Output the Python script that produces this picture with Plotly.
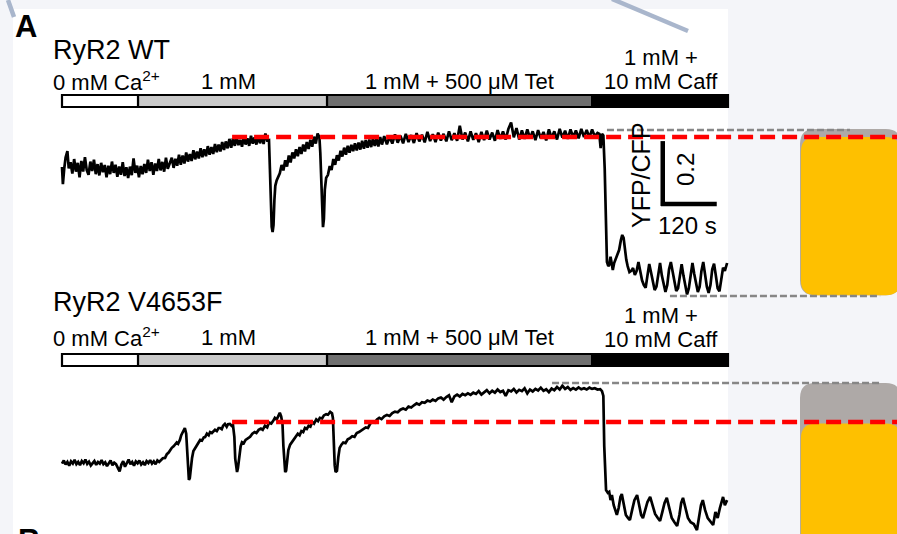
import plotly.graph_objects as go

# ---------------- data (time in s, YFP/CFP ratio) ----------------
wt_t = [0, 2, 5, 8, 12, 15, 19, 23, 27, 31, 35, 39, 43, 47, 51, 55, 59, 63, 67, 71, 75, 79, 83, 87, 91, 95, 99,
        103, 107, 111, 115, 119, 123, 127, 131, 135, 139, 143, 147, 151, 155, 159, 163, 167, 171, 175, 179, 183,
        187, 191, 195, 199, 203, 207, 211, 215, 219, 223, 227, 231, 235,
        240, 244, 248, 252, 256, 260, 264, 268, 272, 276, 280, 284, 288, 292, 296, 300, 304, 308, 312, 316, 320,
        324, 328, 332, 336, 340, 344, 348, 352, 356, 360, 364, 368,
        372, 376, 380, 384, 388, 392, 396, 400, 404, 408, 412, 416, 420, 424, 428, 432, 436, 440, 444, 448, 452, 456,
        460, 462, 464, 466, 468, 470, 472, 474, 477, 480, 484, 488, 492, 496, 500, 504, 508, 512, 516, 520, 524, 528,
        532, 536, 540, 544, 548, 552, 556, 560, 564, 568, 572,
        574, 576, 578, 580, 582, 584, 587, 591, 595, 599, 603, 607, 611, 615, 619, 623, 627, 631, 635, 639, 643, 647,
        651, 655, 659, 663, 667, 671, 675, 679, 683, 687, 691, 695, 699, 703, 707, 711,
        716, 722, 728, 734, 740, 746, 752, 758, 764, 770, 776, 782, 788, 794, 800, 806, 812, 818, 824, 830, 836, 842,
        848, 854, 860, 866, 872, 878, 884, 890, 896, 902, 908, 914, 920, 926, 932, 938, 944, 950, 956, 962, 968, 974,
        980, 986, 992, 998, 1004, 1010, 1016, 1022, 1028, 1034, 1040, 1046, 1052, 1058, 1064, 1070, 1076, 1082, 1088,
        1094, 1100, 1106, 1112, 1118, 1124, 1130, 1136, 1142, 1148, 1154, 1160, 1166, 1172, 1178, 1184, 1190,
        1194, 1197, 1200, 1203, 1206, 1209, 1211, 1214, 1216, 1219, 1222, 1224, 1227, 1231, 1235, 1238, 1242, 1245,
        1248, 1251, 1254, 1257, 1261, 1265, 1269, 1273, 1277, 1281, 1285, 1289, 1293, 1297, 1301, 1305, 1309, 1313,
        1317, 1321, 1325, 1329, 1333, 1337, 1341, 1345, 1349, 1353, 1357, 1361, 1365, 1369, 1373, 1377, 1381, 1385,
        1389, 1393, 1397, 1401, 1405, 1409, 1413, 1417, 1421, 1425, 1429, 1433, 1437, 1441, 1445, 1449, 1453, 1457,
        1461, 1465, 1469, 1473, 1478]
wt_ratio = [0.905, 0.850, 0.900, 0.935, 0.955, 0.900, 0.920, 0.884, 0.930, 0.890, 0.918, 0.872, 0.924, 0.890, 0.936,
            0.895, 0.880, 0.922, 0.892, 0.928, 0.882, 0.914, 0.878, 0.918, 0.888, 0.911, 0.872, 0.909, 0.882, 0.922,
            0.886, 0.912, 0.874, 0.906, 0.880, 0.920, 0.876, 0.904, 0.870, 0.906, 0.879, 0.932, 0.886, 0.909, 0.872,
            0.908, 0.882, 0.914, 0.886, 0.928, 0.892, 0.920, 0.880, 0.916, 0.892, 0.930, 0.894, 0.921, 0.890, 0.934,
            0.899,
            0.920, 0.934, 0.902, 0.931, 0.909, 0.944, 0.912, 0.941, 0.916, 0.951, 0.922, 0.946, 0.924, 0.958, 0.929,
            0.954, 0.932, 0.964, 0.936, 0.961, 0.939, 0.971, 0.944, 0.968, 0.946, 0.978, 0.952, 0.976, 0.954, 0.984,
            0.959, 0.986, 0.964,
            0.994, 0.966, 0.996, 0.972, 0.999, 0.974, 0.991, 0.969, 1.001, 0.976, 0.996, 0.972, 1.004, 0.979, 0.999,
            0.976, 1.005, 0.980, 1.002, 0.978, 1.011, 0.989,
            0.990, 0.900, 0.800, 0.715, 0.698, 0.720, 0.800, 0.845, 0.862, 0.875, 0.885, 0.911, 0.894, 0.926, 0.906,
            0.941, 0.919, 0.951, 0.932, 0.961, 0.939, 0.968, 0.946, 0.976, 0.954, 0.984, 0.962, 0.991, 0.969, 1.001,
            0.979, 1.011, 1.000,
            0.950, 0.860, 0.740, 0.714, 0.740, 0.832, 0.870, 0.880, 0.908, 0.895, 0.930, 0.912, 0.942, 0.925, 0.956,
            0.938, 0.966, 0.944, 0.972, 0.950, 0.975, 0.955, 0.980, 0.957, 0.982, 0.960, 0.988, 0.963, 0.990, 0.966,
            0.992, 0.968, 0.996, 0.972, 0.994, 0.970, 1.000, 0.976,
            1.003, 0.977, 1.001, 0.979, 1.008, 0.982, 1.004, 0.980, 1.010, 0.984, 1.006, 0.981, 1.012, 0.986, 1.007,
            0.983, 1.016, 0.987, 1.009, 0.984, 1.014, 0.989, 1.010, 0.986, 1.018, 0.990, 1.012, 0.988, 1.036, 0.992,
            1.014, 0.986, 1.018, 0.991, 1.012, 0.984, 1.016, 0.990, 1.020, 0.992, 1.014, 0.988, 1.022, 0.994, 1.018,
            0.992, 1.026, 1.046, 0.999, 1.028, 0.992, 1.021, 0.994, 1.024, 0.996, 1.018, 0.990, 1.022, 0.996, 1.016,
            0.989, 1.024, 0.997, 1.018, 0.992, 1.026, 0.998, 1.020, 0.994, 1.024, 0.999, 1.021, 0.996, 1.026, 1.000,
            1.022, 0.998, 1.024, 1.002, 1.013,
            1.010, 0.965, 1.010, 1.005, 0.900, 0.700, 0.603, 0.590, 0.594, 0.620, 0.590, 0.578, 0.600, 0.616, 0.630,
            0.641, 0.673, 0.689, 0.680, 0.641, 0.610, 0.590, 0.571, 0.575, 0.584, 0.562, 0.575, 0.603, 0.575, 0.545,
            0.530, 0.521, 0.560, 0.597, 0.570, 0.540, 0.514, 0.525, 0.570, 0.600, 0.560, 0.530, 0.508, 0.530, 0.580,
            0.603, 0.570, 0.535, 0.511, 0.520, 0.565, 0.596, 0.560, 0.528, 0.500, 0.520, 0.570, 0.600, 0.565, 0.530,
            0.508, 0.525, 0.575, 0.603, 0.565, 0.525, 0.505, 0.530, 0.580, 0.598, 0.560, 0.520, 0.510, 0.545, 0.585,
            0.575, 0.600]

mut_t = [0, 4, 8, 12, 16, 20, 24, 28, 32, 36, 40, 44, 48, 52, 56, 60, 64, 68, 72, 76, 80, 84, 88, 92, 96, 100, 104,
         108, 112, 116, 120, 124, 128, 132, 136, 140, 144, 148, 152, 156, 160, 164, 168, 172, 176, 180, 184, 188, 192,
         196, 200, 204, 208, 212, 216,
         220, 224, 229, 233, 237, 240, 244, 248, 251, 255, 258, 262, 265, 269, 273, 276, 278, 280, 282, 284, 286, 289,
         292, 296, 300, 304, 307, 311, 315, 318, 322, 326, 329, 333, 337, 340, 344, 348, 351, 355, 358, 362, 366, 369,
         373, 377, 380, 383, 385, 387, 389, 391, 394, 397, 400, 404, 408, 413, 418, 423, 428, 432, 437, 442, 446, 451,
         456, 460, 465, 469, 473, 477, 481, 484, 487, 490, 492, 494, 496, 498, 500, 503, 507, 511, 515, 520, 524, 528,
         532, 536, 540, 544, 548, 552, 556, 560, 565, 569, 573, 578, 582, 587, 591, 596, 600, 602, 604, 606, 608, 611,
         614, 617, 621, 625, 630, 635, 640, 645, 650, 655, 660, 665, 670, 675, 680, 685, 690, 695, 700, 705, 710, 716,
         722, 728, 734, 740, 746, 752, 758, 764, 770, 776, 782, 788, 794, 800, 806, 812, 818, 824, 830, 836, 842, 848,
         854, 860, 866, 872, 878, 884, 890, 896, 902, 908, 914, 920, 926, 932, 938, 944, 950, 956, 962, 968, 974, 980,
         986, 992, 998, 1004, 1010, 1016, 1022, 1028, 1034, 1040, 1046, 1052, 1058, 1064, 1070, 1076, 1082, 1088,
         1094, 1100, 1106, 1112, 1118, 1124, 1130, 1136, 1142, 1148, 1154, 1160, 1166, 1172, 1178, 1184, 1190, 1196,
         1200, 1203, 1205, 1207,
         1209, 1213, 1216, 1219, 1222, 1226, 1230, 1233, 1237, 1241, 1244, 1248, 1253, 1258, 1262, 1267, 1272, 1278,
         1283, 1287, 1291, 1296, 1301, 1307, 1312, 1318, 1324, 1329, 1334, 1339, 1344, 1349, 1355, 1361, 1367, 1372,
         1376, 1380, 1385, 1391, 1397, 1404, 1411, 1416, 1420, 1424, 1429, 1435, 1441, 1447, 1452, 1457, 1462, 1466,
         1469, 1473, 1478]
mut_ratio = [0.895, 0.905, 0.892, 0.900, 0.888, 0.902, 0.895, 0.907, 0.893, 0.900, 0.890, 0.903, 0.896, 0.908, 0.894,
             0.901, 0.889, 0.898, 0.903, 0.891, 0.900, 0.895, 0.906, 0.893, 0.899, 0.887, 0.897, 0.905, 0.890, 0.898,
             0.893, 0.880, 0.870, 0.892, 0.903, 0.885, 0.897, 0.908, 0.893, 0.900, 0.888, 0.902, 0.896, 0.905, 0.892,
             0.899, 0.890, 0.903, 0.897, 0.906, 0.895, 0.902, 0.893, 0.905, 0.900,
             0.905, 0.912, 0.913, 0.925, 0.930, 0.938, 0.945, 0.950, 0.954, 0.962, 0.958, 0.970, 0.985, 0.995, 1.008,
             0.990, 0.950, 0.890, 0.843, 0.849, 0.880, 0.913, 0.935, 0.944, 0.955, 0.962, 0.970, 0.968, 0.978, 0.979,
             0.990, 0.985, 0.995, 0.992, 1.000, 1.002, 0.998, 1.008, 1.008, 1.004, 1.015, 1.021, 1.012, 1.020, 1.021,
             1.015, 1.017, 0.980, 0.910, 0.881, 0.868, 0.881, 0.925, 0.950, 0.963, 0.960, 0.970, 0.976, 0.980, 0.990,
             0.995, 0.992, 1.002, 1.006, 1.002, 1.015, 1.010, 1.025, 1.022, 1.030, 1.040, 1.035, 1.045, 1.056, 1.045,
             1.020, 0.950, 0.880, 0.868, 0.872, 0.905, 0.938, 0.955, 0.963, 0.968, 0.978, 0.990, 0.985, 0.998, 0.995,
             1.008, 1.005, 1.015, 1.012, 1.027, 1.022, 1.035, 1.030, 1.040, 1.038, 1.048, 1.052, 1.050, 1.059, 1.055,
             1.040, 0.960, 0.890, 0.868, 0.872, 0.915, 0.945, 0.955, 0.962, 0.960, 0.972, 0.976, 0.982, 0.980, 0.992,
             0.995, 1.000, 1.004, 1.010, 1.008, 1.022, 1.027, 1.025, 1.035, 1.040, 1.036, 1.045, 1.049, 1.046, 1.055,
             1.060, 1.058, 1.066, 1.070, 1.066, 1.076, 1.073, 1.080, 1.086, 1.082, 1.090, 1.088, 1.095, 1.092, 1.098,
             1.094, 1.102, 1.105, 1.098, 1.106, 1.112, 1.090, 1.108, 1.114, 1.108, 1.116, 1.112, 1.118, 1.113, 1.120,
             1.116, 1.125, 1.114, 1.121, 1.128, 1.118, 1.126, 1.120, 1.130, 1.122, 1.126, 1.110, 1.128, 1.124, 1.132,
             1.121, 1.129, 1.125, 1.134, 1.118, 1.130, 1.124, 1.132, 1.127, 1.136, 1.126, 1.131, 1.122, 1.133, 1.128,
             1.138, 1.130, 1.142, 1.132, 1.138, 1.129, 1.135, 1.130, 1.137, 1.131, 1.134, 1.130, 1.136, 1.132, 1.134,
             1.130, 1.131, 1.125, 1.110, 0.950, 0.843,
             0.811, 0.802, 0.805, 0.779, 0.795, 0.763, 0.741, 0.732, 0.754, 0.789, 0.798, 0.763, 0.732, 0.722, 0.716,
             0.748, 0.779, 0.795, 0.763, 0.732, 0.722, 0.748, 0.773, 0.789, 0.763, 0.735, 0.722, 0.713, 0.741, 0.770,
             0.786, 0.754, 0.722, 0.709, 0.697, 0.732, 0.770, 0.786, 0.754, 0.722, 0.709, 0.703, 0.684, 0.722, 0.763,
             0.779, 0.748, 0.722, 0.709, 0.700, 0.741, 0.722, 0.754, 0.779, 0.789, 0.763, 0.779]

# solution exchange times (s)
solution_times = [0, 169, 589, 1178, 1480]
solution_colors = ["#ffffff", "#c9c9c9", "#6f6f6f", "#000000"]

# reference / extreme levels (ratio units)
wt_ref, wt_peak, wt_min = 1.000, 1.022, 0.495
mut_ref, mut_peak = 1.027, 1.151
ref_start = 378

# scale bar (120 s, 0.2 ratio)
scale_t0, scale_r0, scale_dt, scale_dr = 1335, 0.787, 120, 0.2

# ---------------- layout helpers ----------------
W, H = 897, 534
X_RANGE = [-137.78, 1855.56]
WT_RANGE = [-0.26032, 1.43492]
MUT_RANGE = [0.67143, 2.36667]


def px(x):
    return x / W


def py(y):
    return 1 - y / H


FONT = "Liberation Sans, Arial, Helvetica, sans-serif"

fig = go.Figure()

fig.add_trace(go.Scatter(x=wt_t, y=wt_ratio, mode="lines", line=dict(color="black", width=2.7),
                         yaxis="y", hoverinfo="skip"))
fig.add_trace(go.Scatter(x=mut_t, y=mut_ratio, mode="lines", line=dict(color="black", width=2.7),
                         yaxis="y2", hoverinfo="skip"))

gray_dash = dict(color="#868686", width=2.5, dash="7px,3px")
fig.add_trace(go.Scatter(x=[1211, 1751], y=[wt_peak, wt_peak], mode="lines", line=gray_dash, yaxis="y",
                         hoverinfo="skip"))
fig.add_trace(go.Scatter(x=[1351, 1818], y=[wt_min, wt_min], mode="lines", line=gray_dash, yaxis="y",
                         hoverinfo="skip"))
fig.add_trace(go.Scatter(x=[1089, 1818], y=[mut_peak, mut_peak], mode="lines", line=gray_dash, yaxis="y2",
                         hoverinfo="skip"))

red_dash = dict(color="#ff0000", width=4.5, dash="15px,7px")
fig.add_trace(go.Scatter(x=[ref_start, X_RANGE[1]], y=[wt_ref, wt_ref], mode="lines", line=red_dash, yaxis="y",
                         hoverinfo="skip"))
fig.add_trace(go.Scatter(x=[ref_start, X_RANGE[1]], y=[mut_ref, mut_ref], mode="lines", line=red_dash,
                         yaxis="y2", hoverinfo="skip"))

shapes = []
# white figure panel
shapes.append(dict(type="rect", xref="paper", yref="paper", x0=px(13), x1=px(728), y0=py(545), y1=py(9),
                   fillcolor="white", line=dict(width=0), layer="below"))


def rounded(x0, x1, y0, y1, rx, ry):
    return (f"M {x0 + rx},{y1} L {x1 - rx},{y1} Q {x1},{y1} {x1},{y1 - ry} L {x1},{y0 + ry} "
            f"Q {x1},{y0} {x1 - rx},{y0} L {x0 + rx},{y0} Q {x0},{y0} {x0},{y0 + ry} L {x0},{y1 - ry} "
            f"Q {x0},{y1} {x0 + rx},{y1} Z")


RX, RY = 33.3, 0.0476
BOX_T0, BOX_T1 = 1640, 1864
YELLOW = "#fec000"
GRAYBOX = "#aea9a7"
shapes.append(dict(type="path", xref="x", yref="y", path=rounded(BOX_T0, BOX_T1, 0.498, wt_peak + 0.003, RX, RY),
                   fillcolor=GRAYBOX, line=dict(width=0), layer="below"))
shapes.append(dict(type="path", xref="x", yref="y", path=rounded(BOX_T0 + 2, BOX_T1, 0.498, wt_ref, RX, RY),
                   fillcolor=YELLOW, line=dict(width=0), layer="below"))
shapes.append(dict(type="path", xref="x", yref="y2", path=rounded(BOX_T0, BOX_T1, 0.62, mut_peak, RX, RY),
                   fillcolor=GRAYBOX, line=dict(width=0), layer="below"))
shapes.append(dict(type="path", xref="x", yref="y2", path=rounded(BOX_T0 + 2, BOX_T1, 0.62, mut_ref - 0.005, RX, RY),
                   fillcolor=YELLOW, line=dict(width=0), layer="below"))

# diagonal pointer lines
for (xa, ya, xb, yb) in [(8, 0, 14, 17), (612, -1, 688, 31)]:
    shapes.append(dict(type="line", xref="paper", yref="paper", x0=px(xa), y0=py(ya), x1=px(xb), y1=py(yb),
                       line=dict(color="#a9b6cc", width=4.5)))

# solution bars
for (top, bot) in [(95, 107), (354, 366)]:
    for i in range(4):
        shapes.append(dict(type="rect", xref="x", yref="paper", x0=solution_times[i], x1=solution_times[i + 1],
                           y0=py(bot), y1=py(top), fillcolor=solution_colors[i],
                           line=dict(color="black", width=2.2), layer="below"))

# scale bar
shapes.append(dict(type="line", xref="x", yref="y", x0=scale_t0, x1=scale_t0, y0=scale_r0 - 0.006,
                   y1=scale_r0 + scale_dr, line=dict(color="black", width=4.5)))
shapes.append(dict(type="line", xref="x", yref="y", x0=scale_t0 - 4, x1=scale_t0 + scale_dt, y0=scale_r0,
                   y1=scale_r0, line=dict(color="black", width=4.5)))

ann = []


def text(t, x, y, size, xanchor="center", bold=False, angle=0):
    ann.append(dict(text=f"<b>{t}</b>" if bold else t, xref="paper", yref="paper", x=px(x), y=py(y),
                    xanchor=xanchor, yanchor="middle", showarrow=False, textangle=angle,
                    font=dict(family=FONT, size=size, color="black")))


text("A", 13, 26, 31, xanchor="left", bold=True)
text("B", 16, 540, 31, xanchor="left", bold=True)
for (title, ty, lab_y, caff1_y) in [("RyR2 WT", 50, 81, 57), ("RyR2 V4653F", 302, 337, 315)]:
    text(title, 51, ty, 27, xanchor="left")
    text("0 mM Ca<sup>2+</sup>", 51, lab_y, 22, xanchor="left")
    text("1 mM", 228, lab_y, 22)
    text("1 mM + 500 \u03bcM Tet", 459, lab_y, 22)
    text("1 mM +", 661, caff1_y, 22)
    text("10 mM Caff", 661, caff1_y + 24, 22)

text("YFP/CFP", 641, 175, 25, angle=-90)
text("0.2", 685, 170, 24, angle=-90)
text("120 s", 687, 226, 24)

fig.update_layout(
    width=W, height=H, margin=dict(l=0, r=0, t=0, b=0),
    paper_bgcolor="#f4f5f9", plot_bgcolor="rgba(0,0,0,0)",
    showlegend=False, shapes=shapes, annotations=ann,
    xaxis=dict(range=X_RANGE, domain=[0, 1], visible=False, fixedrange=True),
    yaxis=dict(range=WT_RANGE, domain=[0, 1], visible=False, fixedrange=True),
    yaxis2=dict(range=MUT_RANGE, domain=[0, 1], visible=False, overlaying="y", fixedrange=True),
)

fig.write_html("out.html", config={"displayModeBar": False},
               post_script="document.body.style.margin='0';document.body.style.overflow='hidden';")
